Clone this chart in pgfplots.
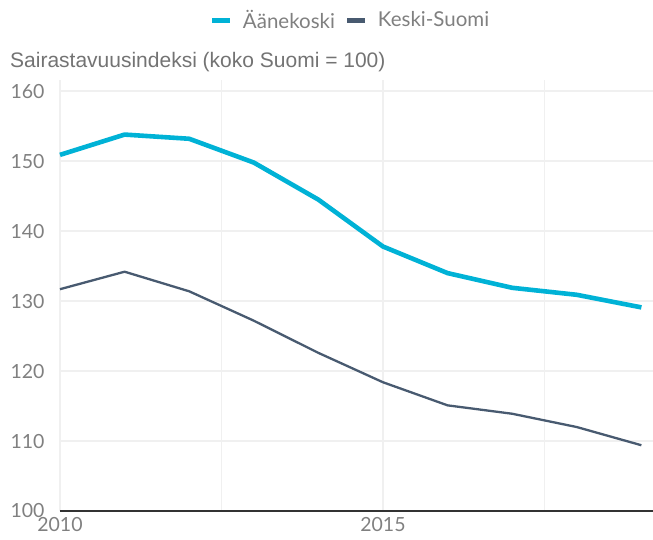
\documentclass[border=0pt]{standalone}
\usepackage{pgfplots}
\pgfplotsset{compat=1.18}
\usepackage{fontspec}
\setmainfont{Lato}
\newfontfamily\titlefont{Liberation Sans}
\definecolor{cyanline}{HTML}{00B2D6}
\definecolor{darkline}{HTML}{485A70}
\definecolor{gridc}{HTML}{F0F0F0}
\definecolor{tickc}{HTML}{808080}
\begin{document}
\begin{tikzpicture}[x=1pt,y=1pt]
\begin{axis}[
  scale only axis,
  width=593pt, height=431pt,
  xmin=2010, xmax=2019.18,
  ymin=100, ymax=161.6,
  axis line style={draw=none},
  xtick={2010,2012.5,2015,2017.5},
  xticklabels={2010,,2015,},
  ytick={100,110,120,130,140,150,160},
  major tick length=0pt,
  grid=major,
  major grid style={draw=gridc, line width=1.4pt},
  tick label style={font=\fontsize{19.5}{19.5}\selectfont, text=tickc},
  /pgf/number format/assume math mode=true,
  xticklabel style={yshift=-3pt},
  yticklabel style={xshift=-12pt},
  clip=false,
  legend style={at={(0.49,1.139)}, anchor=center, draw=none, fill=none,
    legend columns=2, font=\fontsize{20.5}{20.5}\selectfont, text=tickc,
    /tikz/every odd column/.append style={column sep=8pt},
    /tikz/every even column/.append style={column sep=8pt}},
  legend image code/.code={\draw[#1, line width=5pt] (0pt,0pt) -- (18pt,0pt);},
]
\addplot[cyanline, line width=4.6pt, line join=round] coordinates {
(2010,150.9) (2011,153.8) (2012,153.2) (2013,149.8) (2014,144.5) (2015,137.8) (2016,134.0) (2017,131.9) (2018,130.9) (2019,129.1)};
\addlegendentry{Äänekoski}
\addplot[darkline, line width=2.3pt, line join=round] coordinates {
(2010,131.7) (2011,134.2) (2012,131.4) (2013,127.2) (2014,122.6) (2015,118.4) (2016,115.1) (2017,113.9) (2018,112.0) (2019,109.4)};
\addlegendentry{Keski-Suomi}
\draw[color=black!80, line width=1.5pt] (rel axis cs:0,0) -- (rel axis cs:1,0);
\node[anchor=west, inner sep=0pt, font=\titlefont\fontsize{21}{21}\selectfont, text=black!55] at (rel axis cs:0,1) [xshift=-50pt, yshift=18pt] {Sairastavuusindeksi (koko Suomi = 100)};
\end{axis}
\pgfresetboundingbox
\path (current axis.south west) ++(-60pt,-28pt) rectangle ++(653pt,539pt);
\end{tikzpicture}
\end{document}
